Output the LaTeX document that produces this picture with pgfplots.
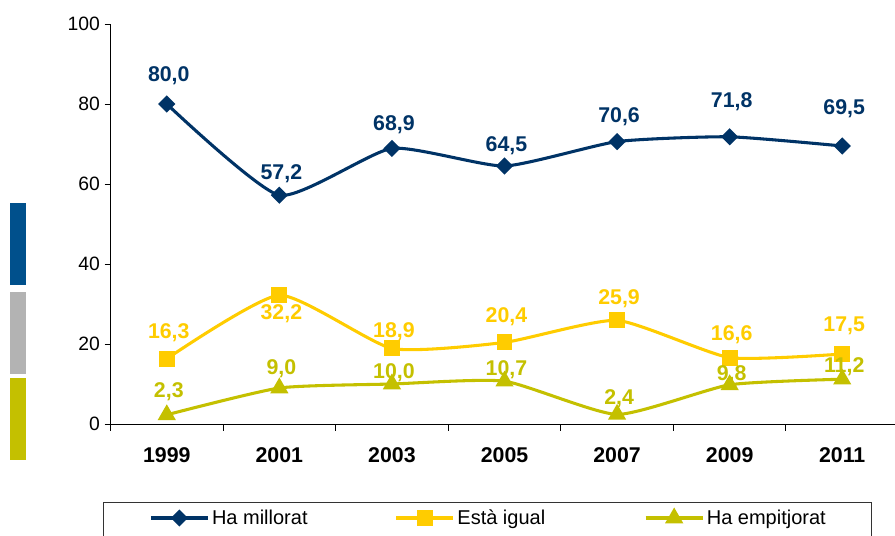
\documentclass[border=0pt]{standalone}
\usepackage{pgfplots}
\pgfplotsset{compat=1.18}
\usepackage{pgfplotstable}
\usepackage{fontspec}
\setmainfont{Liberation Sans}

\definecolor{navy}{HTML}{003366}
\definecolor{gold}{HTML}{FFCC00}
\definecolor{olivey}{HTML}{C4C000}
\definecolor{barblue}{HTML}{00508C}
\definecolor{bargray}{HTML}{B3B3B3}

% x = category index (1999 ... 2011), dy = label offset in px
\pgfplotstableread{
x y dy
0 80.0 28
1 57.2 21
2 68.9 24
3 64.5 20
4 70.6 25
5 71.8 35
6 69.5 37
}\millorat
\pgfplotstableread{
x y dy
0 16.3 26
1 32.2 -18
2 18.9 17
3 20.4 26
4 25.9 22
5 16.6 23
6 17.5 28
}\igual
\pgfplotstableread{
x y dy
0 2.3 23
1 9.0 19
2 10.0 11
3 10.7 12
4 2.4 16
5 9.8 10
6 11.2 13
}\empitjorat

\begin{document}
\begin{tikzpicture}
\path[use as bounding box] (0,0) rectangle (671.25pt,-401.25pt);
% decorative bars on the left
\fill[barblue] (7.5pt,-152.25pt) rectangle (19.5pt,-213.75pt);
\fill[bargray] (7.5pt,-219pt) rectangle (19.5pt,-280.5pt);
\fill[olivey] (7.5pt,-283.5pt) rectangle (19.5pt,-345pt);
% legend frame
\draw[black!80,line width=0.75pt] (77.25pt,-376.5pt) rectangle (653.25pt,-410pt);
\begin{axis}[at={(82.875pt,-318pt)},anchor=south west,
 scale only axis,width=591pt,height=300pt,
 xmin=-0.5,xmax=6.5,ymin=0,ymax=100,clip=false,
 axis x line=bottom,axis y line=left,axis line style={-,black,line width=0.75pt},
 xtick={0,...,6},xticklabels={1999,2001,2003,2005,2007,2009,2011},
 minor xtick={-0.5,0.5,...,6.5},major x tick style={draw=none},
 ytick={0,20,...,100},
 tick align=outside,major tick length=4.5pt,minor tick length=5pt,
 every tick/.style={black,line width=0.75pt},
 /pgf/number format/assume math mode=true,
 yticklabel style={font=\fontsize{14.5}{17}\selectfont},
 xticklabel style={font=\fontsize{16}{19}\selectfont\bfseries,yshift=-10pt},
 legend columns=3,
 legend style={at={(0.0489,-0.235)},anchor=west,draw=none,fill=none,inner xsep=0pt,
  font=\fontsize{15}{18}\selectfont},
 legend image code/.code={\draw[mark repeat=2,mark phase=2] plot coordinates {(0pt,0pt)(21.4pt,0pt)(42.75pt,0pt)};},
 every axis plot/.append style={line width=2.3pt,smooth,tension=0.33},
 nodes near coords={\pgfmathprintnumber[fixed,precision=1,zerofill,use comma]{\pgfplotspointmeta}},
 point meta=explicit,
 visualization depends on={\thisrow{dy} \as \dy},
 every node near coord/.append style={font=\fontsize{16}{19}\selectfont\bfseries,anchor=center,
  yshift=\dy*0.75pt,xshift=1.5pt},
]
\addplot[navy,mark=square*,mark size=3.4pt,mark options={rotate=45,solid},
 every node near coord/.append style={text=navy}] table[x=x,y=y,meta=y] {\millorat};
\addlegendentry{\makebox[135pt][l]{Ha millorat}}
\addplot[gold,mark=square*,mark size=4.8pt,mark options={solid},
 every node near coord/.append style={text=gold}] table[x=x,y=y,meta=y] {\igual};
\addlegendentry{\makebox[138pt][l]{Està igual}}
\addplot[olivey,mark=triangle*,mark size=5.6pt,mark options={solid},
 every node near coord/.append style={text=olivey}] table[x=x,y=y,meta=y] {\empitjorat};
\addlegendentry{Ha empitjorat}
\end{axis}
\end{tikzpicture}
\end{document}
